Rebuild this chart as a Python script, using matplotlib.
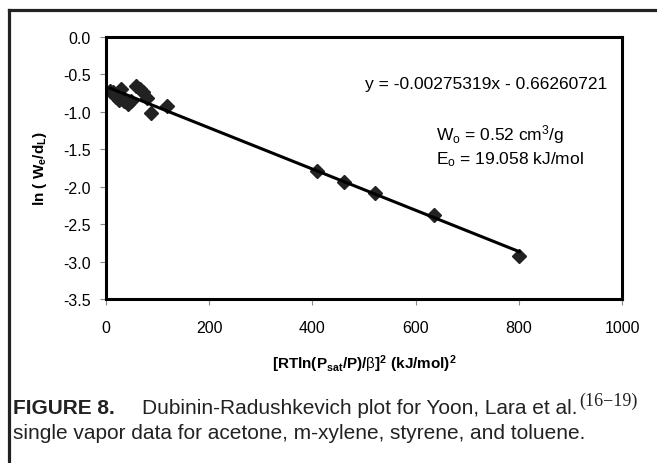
import numpy as np
import matplotlib.pyplot as plt
from matplotlib.lines import Line2D

plt.rcParams['font.family'] = ['Liberation Sans', 'DejaVu Sans']
plt.rcParams['mathtext.fontset'] = 'custom'
plt.rcParams['mathtext.rm'] = 'Liberation Sans'
plt.rcParams['mathtext.it'] = 'Liberation Sans:italic'
plt.rcParams['mathtext.bf'] = 'Liberation Sans:bold'
plt.rcParams['axes.unicode_minus'] = False

# D-R data
x_vals = [8, 14, 20, 25, 30, 35, 42, 48, 58, 65, 72, 80, 88, 118,
          408, 461, 522, 635, 801]
y_vals = [-0.72, -0.74, -0.80, -0.84, -0.70, -0.86, -0.90, -0.85, -0.66, -0.70,
          -0.74, -0.82, -1.02, -0.92,
          -1.79, -1.94, -2.09, -2.38, -2.92]

slope = -0.00275319
intercept = -0.66260721

eq_text = "y = -0.00275319x - 0.66260721"
wo_text = r"W$_\mathregular{o}$ = 0.52 cm$^\mathregular{3}$/g"
eo_text = r"E$_\mathregular{o}$ = 19.058 kJ/mol"

caption_1 = "Dubinin-Radushkevich plot for Yoon, Lara et al."
caption_2 = "single vapor data for acetone, m-xylene, styrene, and toluene."

fig = plt.figure(figsize=(6.57, 4.64), dpi=100)
W, H = 657, 464
ax = fig.add_axes([106 / W, 1 - 300 / H, (622 - 106) / W, (300 - 38) / H])

ax.plot(x_vals, y_vals, 'D', color='#222222', ms=6.8, zorder=2)
xf = np.array([min(x_vals), max(x_vals)])
ax.plot(xf, slope * xf + intercept, color='black', lw=2.2, zorder=3)

ax.set_xlim(0, 1000)
ax.set_ylim(-3.5, 0)
ax.set_xticks(np.arange(0, 1001, 200))
ax.set_yticks(np.arange(-3.5, 0.01, 0.5))
ax.yaxis.set_major_formatter('{x:.1f}')
ax.tick_params(labelsize=11.5, length=4, width=0.8, color='#888888')
ax.tick_params(axis='x', pad=11)
ax.tick_params(axis='y', pad=7)
for s in ax.spines.values():
    s.set_linewidth(2.2)

ax.set_xlabel(r'$\mathbf{[RTln(P_{sat}/P)/}\mathrm{\beta}\mathbf{]^2\ (kJ/mol)^2}$',
              fontsize=11, labelpad=13)
ax.set_ylabel(r'$\mathbf{ln\ (\ W_{e}/d_{L})}$', fontsize=11, labelpad=10)

ax.text(0.502, 0.821, eq_text, fontsize=12.5, va='center', ha='left',
        transform=ax.transAxes)
ax.text(0.640, 0.630, wo_text, fontsize=12.5, va='center', ha='left',
        transform=ax.transAxes)
ax.text(0.640, 0.534, eo_text, fontsize=12.5, va='center', ha='left',
        transform=ax.transAxes)

# outer frame (only left and top edges visible)
fig.add_artist(Line2D([9 / W, 9 / W], [0, 1 - 11 / H], transform=fig.transFigure,
                      color='#222222', lw=2.3))
fig.add_artist(Line2D([9 / W, 1], [1 - 11 / H, 1 - 11 / H], transform=fig.transFigure,
                      color='#222222', lw=2.3))

# caption
fig.text(13 / W, 1 - 414 / H, "FIGURE 8.", fontsize=15, weight='bold',
         va='baseline', ha='left', color='#222222')
c1 = fig.text(142 / W, 1 - 414 / H, caption_1, fontsize=15,
              va='baseline', ha='left', color='#222222')
ax.annotate("(16\u221219)", xy=(1, 0.42), xycoords=c1, xytext=(2, 0),
            textcoords='offset pixels', va='bottom', ha='left',
            fontsize=13, family=['Liberation Serif', 'DejaVu Serif'],
            color='#222222', annotation_clip=False)
fig.text(13 / W, 1 - 439 / H, caption_2, fontsize=15, va='baseline', ha='left',
         color='#222222')

fig.savefig('out.png', dpi=100)
